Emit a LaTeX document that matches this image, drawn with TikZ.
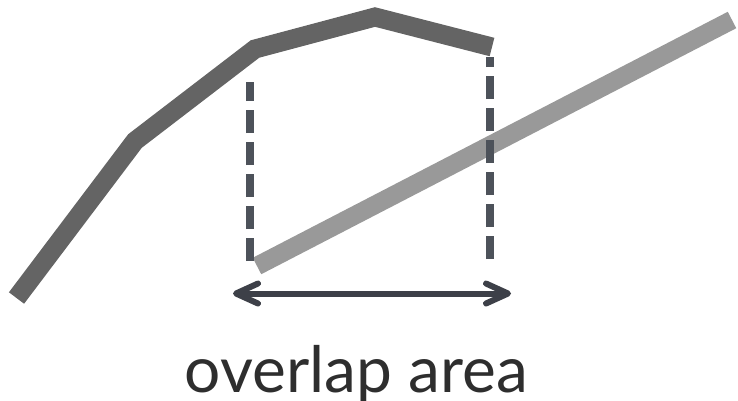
\documentclass[tikz,border=0pt]{standalone}
\usepackage{fontspec}
\setmainfont{Lato}
\usetikzlibrary{arrows.meta}
\definecolor{darkline}{HTML}{646464}
\definecolor{lightline}{HTML}{999999}
\definecolor{dashcol}{HTML}{4D525A}
\definecolor{arrowcol}{HTML}{3D4048}
\definecolor{textcol}{HTML}{2E2E2E}
\tikzset{
  darkpath/.style={draw=darkline, line width=19pt, line cap=butt, line join=miter},
  lightpath/.style={draw=lightline, line width=18.5pt, line cap=butt},
  guide/.style={draw=dashcol, line width=7.5pt, dash pattern=on 23pt off 9pt},
  spanarrow/.style={draw=arrowcol, line width=6pt, line cap=round,
    {Straight Barb[length=22pt,width=20pt,round]}-{Straight Barb[length=22pt,width=20pt,round]}},
  labeltext/.style={text=textcol, font=\fontsize{64}{64}\selectfont, inner sep=0pt, anchor=base}
}
\begin{document}
\begin{tikzpicture}[x=1pt,y=-1pt]
  \useasboundingbox (0,0) rectangle (738,400);
  \clip (0,0) rectangle (738,400);
  % dark polyline
  \coordinate (d0) at (16.5,298);
  \coordinate (d1) at (135,141);
  \coordinate (d2) at (255,49);
  \coordinate (d3) at (375,17);
  \coordinate (d4) at (492,47);
  \path[darkpath] (d0) -- (d1) -- (d2) -- (d3) -- (d4);
  % light line
  \coordinate (l0) at (257,266);
  \coordinate (l1) at (732,20);
  \path[lightpath] (l0) -- (l1);
  % dashed guides
  \coordinate (gl0) at (250,261);
  \coordinate (gl1) at (250,82);
  \coordinate (gr0) at (490,259);
  \coordinate (gr1) at (490,57);
  \path[guide] (gl0) -- (gl1);
  \path[guide] (gr0) -- (gr1);
  % arrow
  \coordinate (a0) at (233,293.5);
  \coordinate (a1) at (511,293.5);
  \path[spanarrow] (a0) -- (a1);
  % label
  \node[labeltext] (lbl) at (356.5,392) {overlap area};
\end{tikzpicture}
\end{document}
